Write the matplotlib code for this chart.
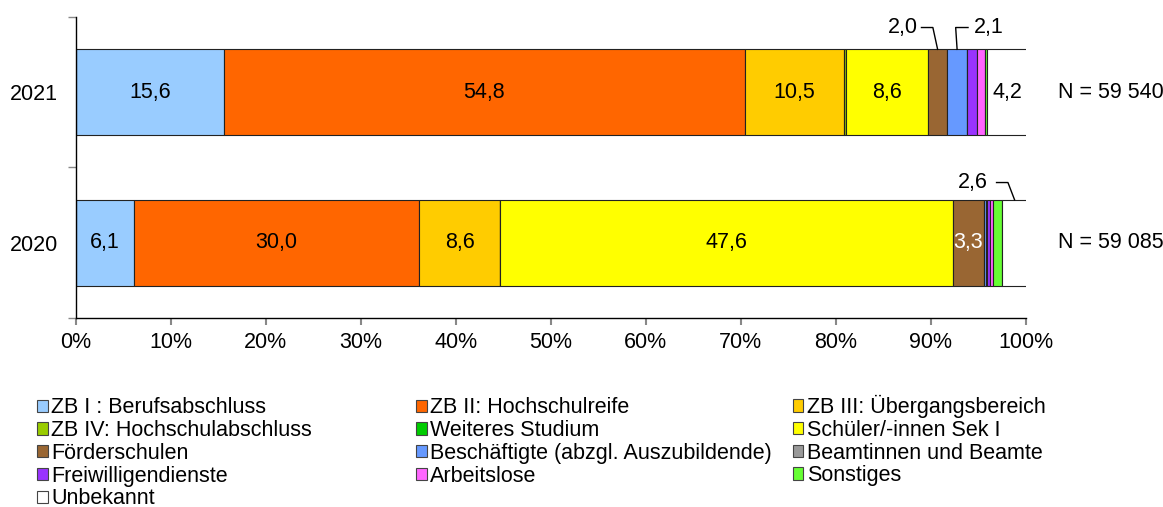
import numpy as np
import matplotlib
matplotlib.use("Agg")
import matplotlib.pyplot as plt
from matplotlib.patches import Patch

plt.rcParams['font.family'] = ['Liberation Sans', 'DejaVu Sans']

years = ["2021", "2020"]
n_labels = ["N = 59 540", "N = 59 085"]
categories = [
    "ZB I : Berufsabschluss",
    "ZB II: Hochschulreife",
    "ZB III: Übergangsbereich",
    "ZB IV: Hochschulabschluss",
    "Weiteres Studium",
    "Schüler/-innen Sek I",
    "Förderschulen",
    "Beschäftigte (abzgl. Auszubildende)",
    "Beamtinnen und Beamte",
    "Freiwilligendienste",
    "Arbeitslose",
    "Sonstiges",
    "Unbekannt",
]
colors = ["#99CCFF", "#FF6600", "#FFCC00", "#99CC00", "#00CC00", "#FFFF00",
          "#996633", "#6699FF", "#999999", "#9933FF", "#FF66FF", "#66FF33", "#FFFFFF"]
values_2021 = [15.6, 54.8, 10.5, 0.2, 0.0, 8.6, 2.0, 2.1, 0.0, 1.0, 0.9, 0.2, 4.2]
values_2020 = [6.1, 30.0, 8.6, 0.0, 0.0, 47.6, 3.3, 0.2, 0.1, 0.3, 0.3, 1.0, 2.6]

data = np.array([values_2021, values_2020])

fig = plt.figure(figsize=(11.63, 5.07), dpi=100)
ax = fig.add_axes([0.0651, 0.3728, 0.8171, 0.5937])

fs = 15.5
bar_h = 0.57
left = np.zeros(len(years))
ypos = np.arange(len(years))
for j, cat in enumerate(categories):
    w = data[:, j]
    ax.barh(ypos, w, left=left, height=bar_h, color=colors[j],
            edgecolor="#222222", linewidth=0.8)
    for i in range(len(years)):
        if w[i] >= 3:
            tc = "white" if cat == "Förderschulen" and years[i] == "2020" else "black"
            ax.text(left[i] + w[i] / 2, ypos[i], f"{w[i]:.1f}".replace(".", ","),
                    ha="center", va="center", fontsize=fs, color=tc)
    left = left + w

cum = np.cumsum(data, axis=1)
starts = cum - data
top = -bar_h / 2


def leader(i, j, tx, hx0, hx1, ty):
    x_mid = starts[i, j] + data[i, j] / 2
    ax.text(tx, ty, f"{data[i, j]:.1f}".replace(".", ","), ha="center",
            va="center", fontsize=fs)
    ax.plot([hx0, hx1, x_mid], [ty, ty, ypos[i] + top], color="black",
            lw=1.0, clip_on=False)


leader(0, 6, 87.0, 89.0, 90.2, -0.43)
leader(0, 7, 96.1, 93.9, 92.6, -0.43)
leader(1, 12, 94.4, 96.9, 98.1, 1 - 0.40)

for i, lab in enumerate(n_labels):
    ax.text(103.4, ypos[i], lab, ha="left", va="center", fontsize=fs,
            clip_on=False)

ax.set_xlim(0, 100)
ax.set_ylim(1.5, -0.5)
ax.set_xticks(np.arange(0, 101, 10))
ax.set_xticklabels([f"{x}%" for x in range(0, 101, 10)], fontsize=fs)
ax.set_yticks(ypos)
ax.set_yticklabels(years, fontsize=fs)
ax.set_yticks([-0.5, 0.5, 1.5], minor=True)
ax.tick_params(axis="y", which="major", length=0, pad=13)
ax.tick_params(axis="y", which="minor", length=6, color="#888888", width=1)
ax.tick_params(axis="x", length=5, color="#888888", width=1.5, pad=5)
for s in ["top", "right"]:
    ax.spines[s].set_visible(False)
for s in ["left", "bottom"]:
    ax.spines[s].set_linewidth(1.0)

handles = [Patch(facecolor=c, edgecolor="#444444", linewidth=0.8) for c in colors]
col_idx = [[0, 3, 6, 9, 12], [1, 4, 7, 10], [2, 5, 8, 11]]
col_x = [0.0318, 0.358, 0.6815]
col_y = [0.216, 0.216, 0.221]
for idx, x, y in zip(col_idx, col_x, col_y):
    leg = fig.legend([handles[k] for k in idx], [categories[k] for k in idx],
                     loc="upper left", bbox_to_anchor=(x, y), frameon=False,
                     fontsize=fs, handlelength=0.5, handleheight=0.5,
                     handletextpad=0.15, labelspacing=0.08, borderpad=0,
                     borderaxespad=0)

fig.savefig("out.png", dpi=100)
